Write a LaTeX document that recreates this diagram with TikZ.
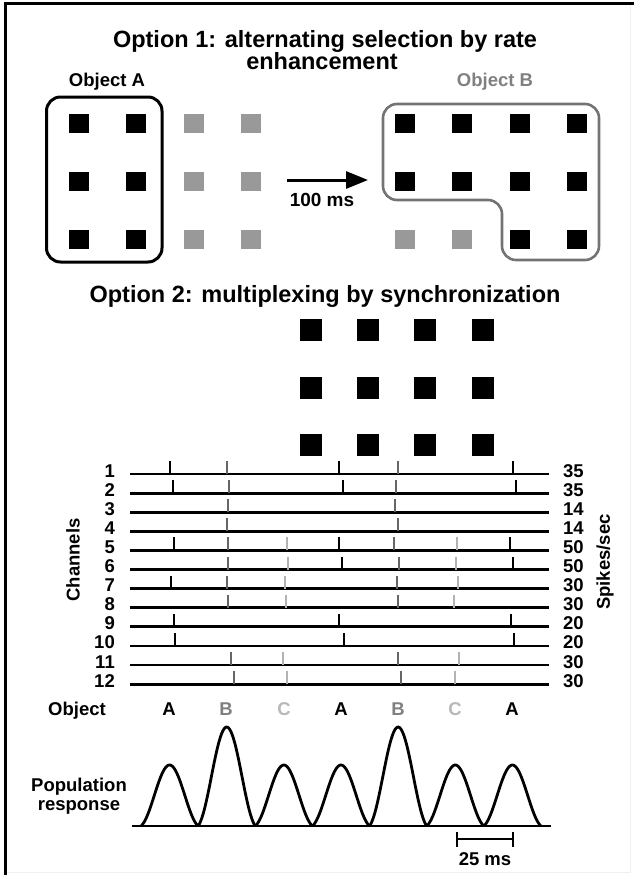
\documentclass[tikz,border=0pt]{standalone}
\usepackage{fontspec}
\setmainfont{Liberation Sans}
\usetikzlibrary{arrows.meta}
\definecolor{bgray}{gray}{0.40}
\definecolor{cgray}{gray}{0.70}
\definecolor{sqgray}{gray}{0.60}
\definecolor{boxgray}{gray}{0.45}
\definecolor{objB}{gray}{0.50}
\definecolor{objC}{gray}{0.72}
\newcommand{\myTitleFont}{\fontsize{23.5}{22}\selectfont\bfseries}
\newcommand{\myLblFont}{\fontsize{18.5}{19}\selectfont\bfseries}
\begin{document}
\begin{tikzpicture}[x=1pt,y=-1pt,
  ttl/.style={font=\myTitleFont, inner sep=0pt, anchor=base, align=center},
  lbl/.style={font=\myLblFont, inner sep=0pt, anchor=base},
  sqb/.style={fill=black, draw=none, minimum width=20pt, minimum height=19pt, inner sep=0pt},
  sqg/.style={fill=sqgray, draw=none, minimum width=20pt, minimum height=19pt, inner sep=0pt},
  sqbig/.style={fill=black, draw=none, minimum size=22pt, inner sep=0pt},
  chline/.style={line width=2.8pt},
  spike/.style={line width=2.5pt},
  curve/.style={line width=2.8pt, line join=round}
]
\useasboundingbox (0,0) rectangle (634,875);
% frame
\draw[gray!12, line width=1pt] (630,4) -- (630,872) -- (5,872);
\draw[line width=3pt] (5,875) -- (5,4) -- (634,4);

% ---------- Option 1 ----------
\node[ttl] (title1) at (325,48) {Option 1: alternating selection by rate};
\node[ttl] (title1b) at (322,70) {enhancement};
\node[lbl] (objA) at (107,86) {Object A};
\node[lbl, text=objB] (objBl) at (495,86) {Object B};

\foreach \r/\yy in {1/123,2/181,3/239}{
  \node[sqb] (a\r1) at (79,\yy) {};
  \node[sqb] (a\r2) at (136,\yy) {};
  \node[sqg] (a\r3) at (194,\yy) {};
  \node[sqg] (a\r4) at (251,\yy) {};
}
\foreach \r/\yy in {1/123,2/181}{
  \node[sqb] (b\r1) at (405,\yy) {};
  \node[sqb] (b\r2) at (462,\yy) {};
  \node[sqb] (b\r3) at (520,\yy) {};
  \node[sqb] (b\r4) at (577,\yy) {};
}
\node[sqg] (b31) at (405,239) {};
\node[sqg] (b32) at (462,239) {};
\node[sqb] (b33) at (520,239) {};
\node[sqb] (b34) at (577,239) {};

\draw[line width=3pt, rounded corners=14pt] (46.5,97) rectangle (162,262);
\draw[boxgray, line width=2.6pt, rounded corners=14pt]
  (490,104) -- (599,104) -- (599,260) -- (502,260) -- (502,200) -- (383,200) -- (383,104) -- cycle;

\coordinate (arS) at (287,180);
\coordinate (arE) at (368,180);
\draw[line width=3pt, -{Triangle[length=22pt,width=17pt]}] (arS) -- (arE);
\node[lbl, font=\fontsize{19}{20}\selectfont\bfseries] (ms100) at (322,206) {100 ms};

% ---------- Option 2 ----------
\node[ttl] (title2) at (325,302) {Option 2: multiplexing by synchronization};
\foreach \r/\yy in {1/330,2/388,3/445}{
  \foreach \c/\xx in {1/311,2/368,3/425,4/483}{
    \node[sqbig] (s\r\c) at (\xx,\yy) {};
  }
}

\foreach \i/\rate in {1/35,2/35,3/14,4/14,5/50,6/50,7/30,8/30,9/20,10/20,11/30,12/30}{
  \pgfmathsetmacro\yy{474+19.1*(\i-1)}
  \coordinate (L\i) at (130,\yy);
  \coordinate (R\i) at (549,\yy);
  \draw[chline] (L\i) -- (R\i);
  \node[lbl, anchor=base east] (n\i) at (115,\yy+3) {\i};
  \node[lbl, anchor=base west] (r\i) at (563,\yy+3) {\rate};
}

\foreach \i/\xx/\cc in {
  1/170/black, 1/227/bgray, 1/339/black, 1/398/bgray, 1/513/black,
  2/173/black, 2/229/bgray, 2/343/black, 2/396/bgray, 2/516/black,
  3/228/bgray, 3/395/bgray,
  4/227/bgray, 4/398/bgray,
  5/174/black, 5/228/bgray, 5/287/cgray, 5/339/black, 5/394/bgray, 5/457/cgray, 5/510/black,
  6/228/bgray, 6/288/cgray, 6/342/black, 6/399/bgray, 6/456/cgray, 6/513/black,
  7/171/black, 7/227/bgray, 7/285/cgray, 7/397/bgray, 7/458/cgray,
  8/228/bgray, 8/286/cgray, 8/398/bgray, 8/454/cgray,
  9/174/black, 9/339/black, 9/511/black,
  10/175/black, 10/344/black, 10/514/black,
  11/231/bgray, 11/283/cgray, 11/398/bgray, 11/459/cgray,
  12/234/bgray, 12/287/cgray, 12/401/bgray, 12/455/cgray}{
  \pgfmathsetmacro\yy{474+19.1*(\i-1)}
  \draw[spike, draw=\cc] (\xx,\yy) -- (\xx,\yy-13);
}

\node[lbl, rotate=90, anchor=center] (chan) at (73,560) {Channels};
\node[lbl, rotate=90, anchor=center] (sps) at (605,562) {Spikes/sec};

% object row
\node[lbl] (objlbl) at (77,715) {Object};
\foreach \k/\xx/\L/\cc in {1/169/A/black,2/226/B/objB,3/284/C/objC,4/341/A/black,5/398/B/objB,6/455/C/objC,7/512/A/black}{
  \node[lbl, text=\cc] (o\k) at (\xx,715) {\L};
}

% population response
\node[lbl] (pop1) at (79,791) {Population};
\node[lbl] (pop2) at (79,810) {response};
\coordinate (bl0) at (132,826);
\coordinate (bl1) at (551,826);
\draw[chline] (bl0) -- (bl1);
\foreach \k/\h in {0/61,1/99,2/61,3/61,4/99,5/61,6/61}{
  \pgfmathsetmacro\tz{141+57.14*\k}
  \draw[curve] plot[domain=0:1, samples=50, smooth]
    ({\tz+57.14*\x},{826-\h*(0.75*(1-cos(360*\x))/2+0.25*sin(180*\x))});
}

% scale bar
\coordinate (sb0) at (457,839);
\coordinate (sb1) at (513,839);
\draw[line width=2.5pt] (sb0) -- (sb1);
\draw[line width=2.5pt] (457,832) -- (457,847);
\draw[line width=2.5pt] (513,832) -- (513,847);
\node[lbl] (ms25) at (485,865) {25 ms};
\end{tikzpicture}
\end{document}
